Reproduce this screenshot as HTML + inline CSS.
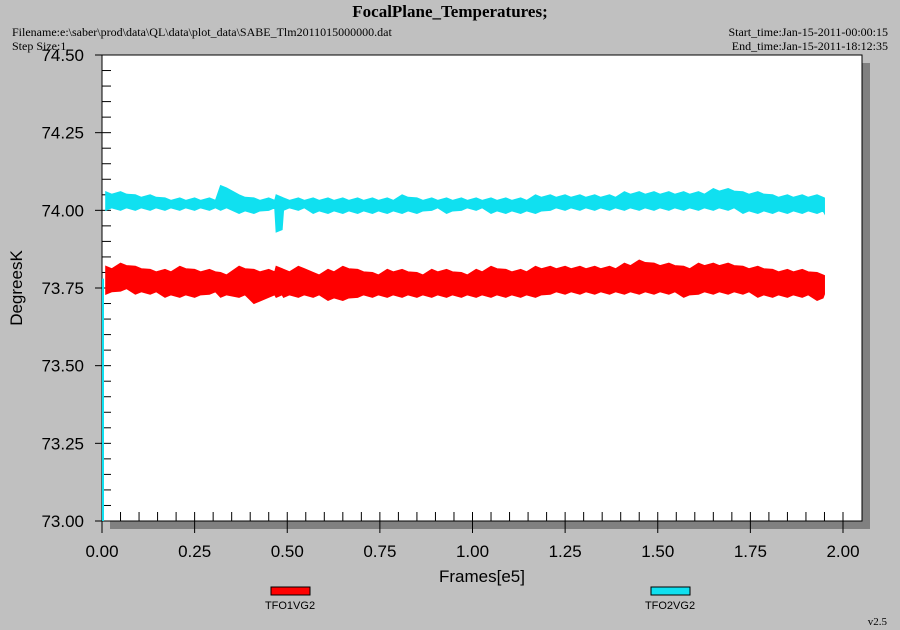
<!DOCTYPE html>
<html><head><meta charset="utf-8"><style>
body{margin:0;background:#c0c0c0;}
svg{display:block;font-family:"Liberation Sans",sans-serif;}
.serif{font-family:"Liberation Serif",serif;}
</style></head><body>
<svg id="chart" width="900" height="630">
<rect x="0" y="0" width="900" height="630" fill="#c0c0c0"/>
<text class="serif" x="450" y="17" text-anchor="middle" font-size="17" font-weight="bold">FocalPlane_Temperatures;</text>
<text class="serif" x="12" y="36" font-size="12">Filename:e:\saber\prod\data\QL\data\plot_data\SABE_Tlm2011015000000.dat</text>
<text class="serif" x="12" y="50" font-size="12">Step Size:1</text>
<text class="serif" x="888" y="36" font-size="12" text-anchor="end">Start_time:Jan-15-2011-00:00:15</text>
<text class="serif" x="888" y="50" font-size="12" text-anchor="end">End_time:Jan-15-2011-18:12:35</text>
<rect x="110" y="63" width="760" height="466" fill="#808080"/>
<rect x="102" y="55" width="760" height="466" fill="#fff" stroke="#000" stroke-width="1"/>
<g id="axes"></g>
<g id="series"></g>
<text x="482" y="582" text-anchor="middle" font-size="17">Frames[e5]</text>
<text x="0" y="0" transform="translate(22,288) rotate(-90)" text-anchor="middle" font-size="17">DegreesK</text>
<g>
<rect x="271" y="587" width="39" height="8" fill="#ff0000" stroke="#000"/>
<text x="290" y="609" text-anchor="middle" font-size="11">TFO1VG2</text></g>
<g>
<rect x="651" y="587" width="39" height="8" fill="#10e0f0" stroke="#000"/>
<text x="670" y="609" text-anchor="middle" font-size="11">TFO2VG2</text></g>
<text class="serif" x="887" y="625" text-anchor="end" font-size="11">v2.5</text>
</svg>
<script>
const xTicks=["0.00","0.25","0.50","0.75","1.00","1.25","1.50","1.75","2.00"];
const yTicks=["73.00","73.25","73.50","73.75","74.00","74.25","74.50"];
const sampleX=[0.01,0.05,0.09,0.13,0.17,0.21,0.25,0.29,0.32,0.37,0.41,0.45,0.47,0.49,0.53,0.57,0.61,0.65,0.69,0.73,0.77,0.81,0.85,0.89,0.93,0.97,1.01,1.05,1.09,1.13,1.17,1.21,1.25,1.29,1.33,1.37,1.41,1.45,1.49,1.53,1.57,1.61,1.65,1.69,1.73,1.77,1.81,1.85,1.89,1.93,1.95];
const redHi=[73.82,73.83,73.82,73.81,73.81,73.82,73.81,73.81,73.80,73.82,73.81,73.81,73.82,73.81,73.82,73.80,73.81,73.82,73.81,73.80,73.81,73.81,73.80,73.81,73.81,73.80,73.81,73.82,73.81,73.81,73.82,73.82,73.82,73.82,73.82,73.82,73.83,73.84,73.83,73.83,73.82,73.83,73.83,73.83,73.82,73.82,73.81,73.81,73.81,73.80,73.79];
const redLo=[73.73,73.74,73.73,73.73,73.72,73.72,73.72,73.73,73.72,73.72,73.70,73.72,73.72,73.72,73.72,73.72,73.71,73.71,73.72,73.72,73.72,73.72,73.72,73.72,73.72,73.72,73.72,73.72,73.72,73.72,73.72,73.73,73.73,73.73,73.73,73.73,73.73,73.73,73.73,73.73,73.72,73.73,73.73,73.73,73.73,73.72,73.72,73.72,73.72,73.71,73.73];
const cyanHi=[74.06,74.06,74.05,74.05,74.04,74.04,74.04,74.04,74.08,74.05,74.04,74.04,74.05,74.04,74.04,74.04,74.04,74.04,74.04,74.04,74.04,74.05,74.04,74.04,74.04,74.04,74.04,74.04,74.04,74.04,74.05,74.05,74.05,74.05,74.05,74.05,74.06,74.06,74.06,74.06,74.06,74.06,74.07,74.07,74.06,74.06,74.05,74.05,74.05,74.05,74.04];
const cyanLo=[74.00,74.00,74.00,74.00,74.00,74.00,74.00,74.00,74.00,73.99,73.99,74.00,73.93,74.00,74.00,73.99,73.99,73.99,73.99,73.99,73.99,73.99,73.99,74.00,73.99,74.00,74.00,73.99,73.99,73.99,73.99,74.00,74.00,74.00,74.00,74.00,74.00,74.00,74.00,74.00,74.00,74.00,74.00,74.00,73.99,73.99,73.99,73.99,73.99,73.99,73.99];
const L=102,R=843,T=55,B=521,X0=0,X1=2,Y0=73,Y1=74.5;
function sx(v){return L+(v-X0)/(X1-X0)*(R-L);}
function sy(v){return B-(v-Y0)/(Y1-Y0)*(B-T);}
const NS="http://www.w3.org/2000/svg";
function mk(tag,attrs,parent){const e=document.createElementNS(NS,tag);for(const k in attrs)e.setAttribute(k,attrs[k]);parent.appendChild(e);return e;}
const ax=document.getElementById('axes');
for(let i=0;i<=40;i++){const v=i*0.05;const x=sx(v);if(x>861)break;
 const major=i%5===0;
 const t=mk('line',{x1:x,x2:x,y1:B-9,y2:major?B+12:B,stroke:'#000'},ax);
 
 }
xTicks.forEach(s=>{const t=mk('text',{x:sx(parseFloat(s)),y:B+36,'text-anchor':'middle','font-size':17},ax);t.textContent=s;
 
 });
for(let i=0;i<=30;i++){const v=Y0+i*0.05;const y=sy(v);const major=i%5===0;
 const t=mk('line',{x1:major?L-7:L,x2:L+9,y1:y,y2:y,stroke:'#000'},ax);
 
 }
yTicks.forEach(s=>{const t=mk('text',{x:84,y:sy(parseFloat(s))+6,'text-anchor':'end','font-size':17},ax);t.textContent=s;
 
 });
const sg=document.getElementById('series');
function band(hi,lo,color,name){
 let pts=[];const n=sampleX.length;
 sampleX.forEach((v,i)=>{pts.push(sx(v)+','+sy(hi[i]));if(i<n-1)pts.push(sx(v)+6+','+sy(hi[i]-0.008));});
 for(let i=n-1;i>=0;i--){if(i<n-1)pts.push(sx(sampleX[i])+6+','+sy(lo[i]+0.008));pts.push(sx(sampleX[i])+','+sy(lo[i]));}
 const p=mk('polygon',{points:pts.join(' '),fill:color,stroke:color,'stroke-width':1},sg);
 
 
}
band(cyanHi,cyanLo,'#10e0f0','series-tfo2vg2');
band(redHi,redLo,'#ff0000','series-tfo1vg2');
const edge=mk('line',{x1:L+1,x2:L+1,y1:sy(73.78),y2:B,stroke:'#10e0f0','stroke-width':2},sg);


</script>
</body></html>
